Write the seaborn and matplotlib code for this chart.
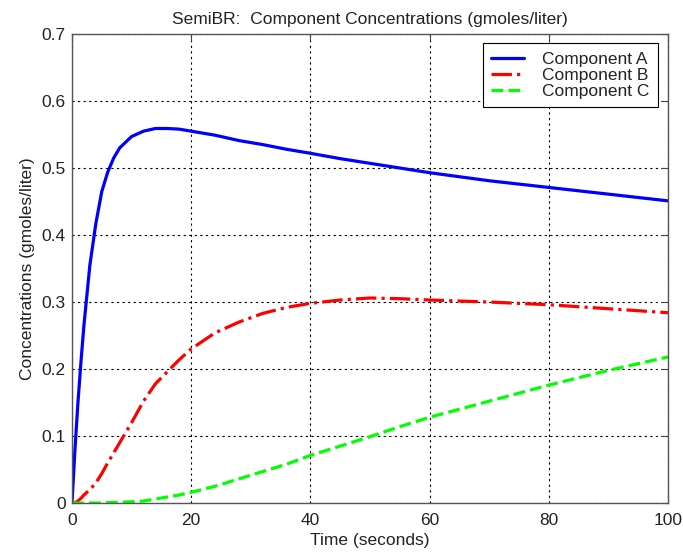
import numpy as np
import pandas as pd
import matplotlib
matplotlib.use("Agg")
import matplotlib.pyplot as plt
import seaborn as sns

# time points (seconds) and concentrations
time_s = [0, 0.5, 1, 1.5, 2, 3, 4, 5, 6, 7, 8, 10, 12, 14, 16, 18, 20,
          24, 28, 32, 36, 40, 45, 50, 55, 60, 70, 80, 90, 100]
comp_a = [0, 0.08, 0.15, 0.21, 0.265, 0.355, 0.417, 0.465, 0.494, 0.515, 0.53,
          0.547, 0.555, 0.559, 0.559, 0.558, 0.555, 0.549, 0.541, 0.535, 0.528,
          0.522, 0.514, 0.507, 0.5, 0.493, 0.481, 0.471, 0.461, 0.451]
comp_b = [0, 0.0005, 0.003, 0.007, 0.012, 0.02, 0.03, 0.044, 0.06, 0.075, 0.09,
          0.12, 0.152, 0.178, 0.196, 0.214, 0.23, 0.254, 0.27, 0.283, 0.292,
          0.298, 0.303, 0.306, 0.305, 0.303, 0.300, 0.296, 0.290, 0.284]
comp_c = [0, 0, 0, 0, 0, 0, 0, 0, 0.0005, 0.001, 0.001, 0.002, 0.003, 0.006,
          0.009, 0.012, 0.016, 0.025, 0.036, 0.047, 0.058, 0.071, 0.085, 0.099,
          0.114, 0.128, 0.152, 0.176, 0.198, 0.218]

df = pd.DataFrame({"t": time_s, "A": comp_a, "B": comp_b, "C": comp_c})

sns.set_style("white")
plt.rcParams['font.family'] = ['Liberation Sans', 'DejaVu Sans']

fig = plt.figure(figsize=(6.83, 5.54), dpi=100)
ax = fig.add_axes([0.1054, 0.092, 0.8726, 0.8466])

sns.lineplot(data=df, x="t", y="A", ax=ax, color="#0000ff", lw=2.3,
             label="Component A")
sns.lineplot(data=df, x="t", y="B", ax=ax, color="#ff0000", lw=2.3,
             linestyle="-.", label="Component B")
sns.lineplot(data=df, x="t", y="C", ax=ax, color="#00ff00", lw=2.3,
             linestyle="--", label="Component C")

ax.set_xlim(0, 100)
ax.set_ylim(0, 0.7)
ax.set_xticks([0, 20, 40, 60, 80, 100])
ax.set_yticks(np.arange(0, 0.71, 0.1))
ax.set_yticklabels(["0", "0.1", "0.2", "0.3", "0.4", "0.5", "0.6", "0.7"])
ax.grid(True, color="black", linestyle=(0, (2, 3)), linewidth=0.8)
ax.tick_params(direction="in", top=True, right=True, length=5,
               labelsize=12.5, colors="#444444", labelcolor="#222222")
ax.tick_params(axis="x", pad=7)
ax.tick_params(axis="y", pad=4.5)
for s in ax.spines.values():
    s.set_color("#555555")
    s.set_linewidth(1.0)

ax.set_xlabel("Time (seconds)", fontsize=12.5, labelpad=4, color="#222222")
ax.set_ylabel("Concentrations (gmoles/liter)", fontsize=12.5, labelpad=5,
              color="#222222")
ax.set_title("SemiBR:  Component Concentrations (gmoles/liter)", fontsize=12.5,
             pad=7, color="#222222")

leg = ax.legend(loc="upper right", fontsize=12.5, frameon=True, fancybox=False,
                edgecolor="black", framealpha=1, handlelength=1.9,
                handletextpad=1.0, borderpad=0.5, labelspacing=0.05,
                borderaxespad=0, bbox_to_anchor=(0.983, 0.981))
leg.get_frame().set_linewidth(0.8)
for txt in leg.get_texts():
    txt.set_color("#222222")

fig.savefig("out.png", dpi=100)
